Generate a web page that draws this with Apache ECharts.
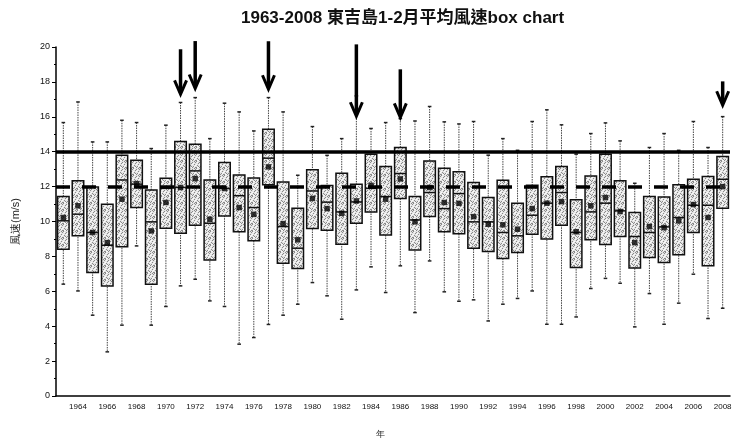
<!DOCTYPE html>
<html><head><meta charset="utf-8">
<script src="https://cdn.jsdelivr.net/npm/echarts@6/dist/echarts.min.js"></script>
<style>html,body{margin:0;padding:0;background:#fff}#c{width:735px;height:444px}</style>
</head><body><div id="c"></div>
<script>
const years = ['1963','1964','1965','1966','1967','1968','1969','1970','1971','1972','1973','1974','1975','1976','1977','1978','1979','1980','1981','1982','1983','1984','1985','1986','1987','1988','1989','1990','1991','1992','1993','1994','1995','1996','1997','1998','1999','2000','2001','2002','2003','2004','2005','2006','2007','2008'];
const whiskerHigh = [15.67,16.85,14.56,14.56,15.8,15.67,14.18,15.52,16.82,17.1,14.75,16.78,16.28,15.19,17.1,16.28,12.65,15.44,13.79,14.75,17.2,15.33,15.67,15.9,15.76,16.59,15.71,15.59,15.73,13.8,14.75,14.08,15.73,16.4,15.54,13.86,15.04,15.65,14.62,12.19,14.24,15.04,14.08,15.73,14.24,16.01];
const q3 = [11.43,12.33,11.98,10.99,13.8,13.51,11.81,12.48,14.58,14.43,12.38,13.38,12.66,12.5,15.29,12.27,10.76,12.96,12.06,12.77,12.14,13.86,13.15,14.24,11.43,13.47,13.05,12.85,12.23,11.37,12.37,11.05,12.08,12.56,13.15,11.24,12.61,13.86,12.33,10.51,11.43,11.41,12.1,12.42,12.58,13.72];
const median = [10.04,10.42,9.37,8.64,12.38,12.14,9.98,11.9,11.95,12.9,9.9,11.89,11.48,10.8,13.63,9.71,8.47,11.75,11.11,10.55,11.12,11.9,11.43,12.75,10.09,11.66,10.74,11.6,9.98,9.98,9.37,9.18,10.36,11.05,11.66,9.37,10.55,11.05,10.61,9.14,9.37,9.69,10.23,10.93,10.93,12.42];
const q1 = [8.41,9.18,7.08,6.31,8.55,10.8,6.41,9.62,9.33,9.79,7.8,10.32,9.41,8.89,12.1,7.61,7.3,9.6,9.5,8.7,9.9,10.55,9.22,11.32,8.37,10.28,9.41,9.3,8.47,8.28,7.88,8.22,9.27,8.99,9.79,7.36,8.95,8.68,9.14,7.33,7.93,7.65,8.09,9.37,7.46,10.76];
const whiskerLow = [6.41,6.02,4.63,2.53,4.06,8.6,4.06,5.13,6.31,6.69,5.45,5.13,2.97,3.35,4.1,4.63,5.26,6.5,5.74,4.4,6.08,7.4,5.93,7.46,4.78,7.74,5.97,5.43,5.51,4.3,5.26,5.59,6.02,4.11,4.11,4.53,6.16,6.74,6.46,3.96,5.87,4.11,5.32,6.98,4.44,5.03];
const mean = [10.23,10.9,9.37,8.79,11.28,12.17,9.46,11.09,11.95,12.46,10.13,11.89,10.8,10.41,13.13,9.88,8.95,11.32,10.74,10.47,11.18,12.07,11.28,12.44,9.98,11.95,11.09,11.04,10.28,9.84,9.81,9.56,10.74,11.05,11.14,9.41,10.9,11.37,10.57,8.79,9.71,9.65,10.04,10.97,10.23,12.0];
const refSolid = 14;
const refDashed = 12;
const arrowYears = ['1971','1972','1977','1983','1986','2008'];
const arrowTop = [19.87,20.34,20.33,20.15,18.72,18.03];
const arrowTip = [17.29,17.62,17.58,16.03,15.97,16.66];

const chart = echarts.init(document.getElementById('c'), null, {renderer:'canvas'});
const pc = document.createElement('canvas'); pc.width = 7; pc.height = 7;
const g = pc.getContext('2d'); g.fillStyle = '#e4e4e4'; g.fillRect(0,0,7,7);
g.fillStyle = '#8a8a8a';
[[0,0],[3,1],[5,3],[1,4],[4,5],[6,6],[2,2],[6,1],[0,6],[3,6],[5,0],[2,5]].forEach(p => g.fillRect(p[0],p[1],1,1));
g.fillStyle = '#fafafa';
[[1,1],[4,2],[0,3],[6,4],[2,6],[5,5],[3,3],[1,6]].forEach(p => g.fillRect(p[0],p[1],1,1));
const pattern = {image: pc, repeat: 'repeat'};

const boxData = years.map((y,i) => [i, whiskerLow[i], q1[i], median[i], q3[i], whiskerHigh[i]]);
const arrowData = arrowYears.map((y,k) => [years.indexOf(y), arrowTop[k], arrowTip[k]]);

function renderBox(params, api){
  const i = api.value(0);
  const pLo = api.coord([i, api.value(1)]);
  const pQ1 = api.coord([i, api.value(2)]);
  const pMed = api.coord([i, api.value(3)]);
  const pQ3 = api.coord([i, api.value(4)]);
  const pHi = api.coord([i, api.value(5)]);
  const bw = 11.5, x = pMed[0], cap = 1.8;
  return {type:'group', children:[
    {type:'line', shape:{x1:x,y1:pHi[1],x2:x,y2:pLo[1]}, style:{stroke:'#444', lineWidth:1, lineDash:[1.5,1]}},
    {type:'line', shape:{x1:x-cap,y1:pHi[1],x2:x+cap,y2:pHi[1]}, style:{stroke:'#222', lineWidth:1.5}},
    {type:'line', shape:{x1:x-cap,y1:pLo[1],x2:x+cap,y2:pLo[1]}, style:{stroke:'#222', lineWidth:1.5}},
    {type:'rect', shape:{x:x-bw/2, y:pQ3[1], width:bw, height:pQ1[1]-pQ3[1]}, style:{fill:pattern, stroke:'#111', lineWidth:1.5}},
    {type:'line', shape:{x1:x-bw/2,y1:pMed[1],x2:x+bw/2,y2:pMed[1]}, style:{stroke:'#111', lineWidth:1.5}}
  ]};
}
function renderArrow(params, api){
  const i = api.value(0);
  const t = api.coord([i, api.value(1)]);
  const b = api.coord([i, api.value(2)]);
  return {type:'group', children:[
    {type:'line', shape:{x1:t[0],y1:t[1],x2:b[0],y2:b[1]-2}, style:{stroke:'#000', lineWidth:3.5}},
    {type:'polyline', shape:{points:[[b[0]-6,b[1]-14],[b[0],b[1]],[b[0]+6,b[1]-14]]}, style:{stroke:'#000', lineWidth:3, fill:null}}
  ]};
}

chart.setOption({
  animation: false,
  backgroundColor: '#fff',
  title: {text: '1963-2008 東吉島1-2月平均風速box chart', left: 236, top: 5,
    textStyle: {fontSize: 17, fontWeight: 'bold', color: '#111', fontFamily: 'Arial, "Liberation Sans", "Noto Sans CJK TC", sans-serif'}},
  grid: {left: 56, right: 5, top: 47, bottom: 47},
  xAxis: {type: 'category', data: years, boundaryGap: true,
    axisLine: {lineStyle: {color: '#000', width: 1.5}},
    axisTick: {interval: i => i % 2 === 1, alignWithLabel: true, length: 5, lineStyle: {color: '#000', width: 1}},
    axisLabel: {interval: i => i % 2 === 1, fontSize: 8, color: '#111', margin: 7, fontFamily: 'Arial'},
    name: '年', nameLocation: 'middle', nameGap: 34, nameTextStyle: {fontSize: 9, color: '#222', padding: [0, 26, 0, 0]}},
  yAxis: {type: 'value', min: 0, max: 20, interval: 2,
    axisLine: {show: true, lineStyle: {color: '#000', width: 1.5}},
    axisTick: {show: true, length: 4, lineStyle: {color: '#000'}},
    minorTick: {show: true, splitNumber: 2, length: 2, lineStyle: {color: '#000'}},
    splitLine: {show: false},
    axisLabel: {fontSize: 9, color: '#111', margin: 6, fontFamily: 'Arial'},
    name: '風速(m/s)', nameLocation: 'middle', nameGap: 35, nameRotate: 90,
    nameTextStyle: {fontSize: 11, color: '#222'}},
  series: [
    {type: 'custom', name: 'box', renderItem: renderBox, data: boxData, encode: {x: 0, y: [1,2,3,4,5]}, z: 2},
    {type: 'scatter', name: 'mean', data: mean, symbol: 'rect', symbolSize: 5.5, itemStyle: {color: '#000'}, z: 4, silent: true,
      markLine: {silent: true, symbol: 'none', label: {show: false}, animation: false,
        data: [
          {yAxis: refSolid, lineStyle: {color: '#000', width: 3.5, type: 'solid'}},
          {yAxis: refDashed, lineStyle: {color: '#000', width: 3.5, type: [14, 12]}}
        ]}},
    {type: 'custom', name: 'arrow', renderItem: renderArrow, data: arrowData, clip: false, encode: {x: 0, y: [1,2]}, z: 6}
  ]
});
</script></body></html>
